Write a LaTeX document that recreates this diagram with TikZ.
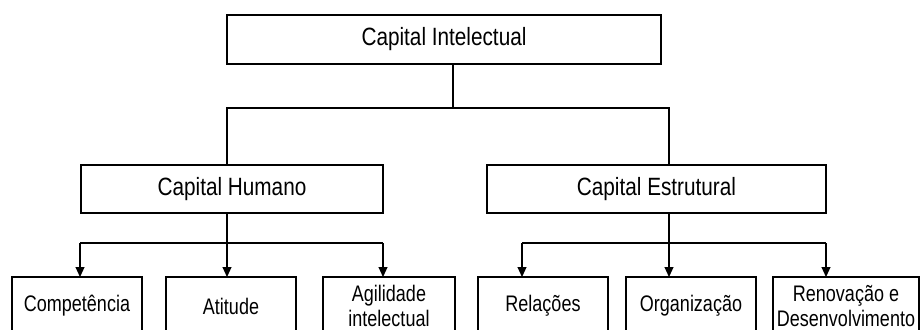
\documentclass[tikz,border=0pt]{standalone}
\usepackage{fontspec}
\setmainfont{Liberation Sans}
\newfontfamily\headfont{Liberation Sans}[FakeStretch=0.83]
\newfontfamily\leaffont{Liberation Sans}[FakeStretch=0.80]
\usetikzlibrary{arrows.meta}
\tikzset{
  box/.style={draw=black, line width=1.3pt, rectangle, inner sep=0pt, outer sep=0pt, align=center},
  headbox/.style={box, font=\headfont\fontsize{25}{30}\selectfont},
  leafbox/.style={box, minimum height=58pt, font=\leaffont\fontsize{22.5}{25}\selectfont},
  link/.style={draw=black, line width=1.1pt},
  arrowlink/.style={link, -{Triangle[length=10pt, width=9pt]}}
}
\begin{document}
\begin{tikzpicture}[x=1pt, y=-1pt]
  \useasboundingbox (0,0) rectangle (920,329);
  \clip (0,0) rectangle (920,329);
  \fill[white] (0,0) rectangle (920,329);

  % top level
  \node[headbox, minimum width=434pt, minimum height=49pt] (ci) at (444,39.5) {Capital Intelectual};

  % second level
  \node[headbox, minimum width=302pt, minimum height=48pt] (ch) at (232,189) {Capital Humano};
  \node[headbox, minimum width=339pt, minimum height=48pt] (ce) at (656.5,189) {Capital Estrutural};

  % third level
  \node[leafbox, minimum width=130pt] (comp) at (77,306) {Competência};
  \node[leafbox, minimum width=130pt] (atit) at (231,306) {Atitude};
  \node[leafbox, minimum width=132pt] (agil) at (389,306) {Agilidade\\intelectual};
  \node[leafbox, minimum width=130pt] (rel)  at (543,306) {Relações};
  \node[leafbox, minimum width=130pt] (org)  at (691,306) {Organização};
  \node[leafbox, minimum width=146pt] (ren)  at (846,306) {Renovação e\\Desenvolvimento};

  % junction points
  \coordinate (j0) at (453,108);
  \coordinate (jl) at (227,108);
  \coordinate (jr) at (669,108);
  \coordinate (hl) at (227,243);
  \coordinate (hr) at (669,243);
  \coordinate (al1) at (80,243);
  \coordinate (al3) at (383,243);
  \coordinate (ar1) at (522,243);
  \coordinate (ar3) at (826,243);

  % top split
  \draw[link] (ci.south -| j0) -- (j0);
  \draw[link] (ch.north -| jl) -- (jl) -- (jr) -- (ce.north -| jr);

  % left group
  \draw[link] (ch.south -| hl) -- (hl);
  \draw[link] (al1) -- (al3);
  \draw[arrowlink] (al1) -- (comp.north -| al1);
  \draw[arrowlink] (hl) -- (atit.north -| hl);
  \draw[arrowlink] (al3) -- (agil.north -| al3);

  % right group
  \draw[link] (ce.south -| hr) -- (hr);
  \draw[link] (ar1) -- (ar3);
  \draw[arrowlink] (ar1) -- (rel.north -| ar1);
  \draw[arrowlink] (hr) -- (org.north -| hr);
  \draw[arrowlink] (ar3) -- (ren.north -| ar3);
\end{tikzpicture}
\end{document}
